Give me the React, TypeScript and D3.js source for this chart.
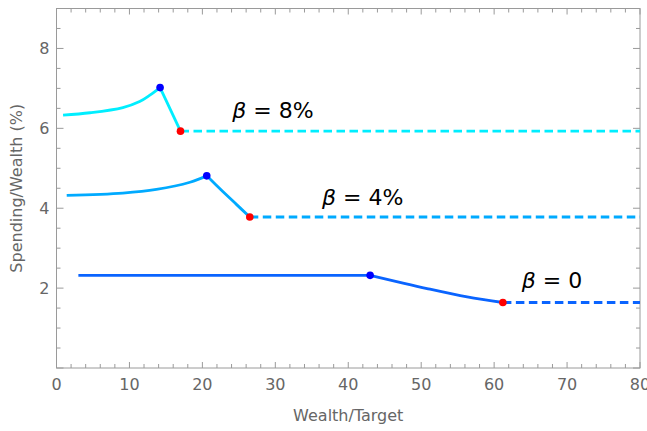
import React from "react";
import * as d3 from "d3";

// Spending rate (% of wealth) against wealth relative to target, for three β values
const beta8Rise: [number, number][] = [[0.9, 6.33], [4.6, 6.39], [9.1, 6.52], [11.4, 6.67], [12.8, 6.83], [14.2, 7.02]];
const beta8Fall: [number, number][] = [[14.2, 7.02], [17.0, 5.93]];
const beta4Rise: [number, number][] = [[1.4, 4.32], [9.1, 4.38], [13.7, 4.47], [18.3, 4.65], [20.6, 4.81]];
const beta4Fall: [number, number][] = [[20.6, 4.81], [22.8, 4.42], [24.7, 4.09], [26.5, 3.78]];
const beta0Flat: [number, number][] = [[3.0, 2.32], [43.0, 2.32]];
const beta0Fall: [number, number][] = [[43.0, 2.32], [50.8, 1.99], [56.3, 1.78], [61.2, 1.64]];

const series = [
  { name: "β = 8%", color: "#00eeff", parts: [beta8Rise, beta8Fall], label: [24.1, 6.25] },
  { name: "β = 4%", color: "#00aaff", parts: [beta4Rise, beta4Fall], label: [36.4, 4.08] },
  { name: "β = 0", color: "#0a64ff", parts: [beta0Flat, beta0Fall], label: [63.8, 2.0] },
];

const xTicks = [0, 10, 20, 30, 40, 50, 60, 70, 80];
const yTicks = [2, 4, 6, 8];

const W = 647, H = 431;
const M = { left: 56.5, right: 7, top: 8.5, bottom: 63 };

export default function App() {
  const x = d3.scaleLinear().domain([0, 80]).range([M.left, W - M.right]);
  const y = d3.scaleLinear().domain([0, 9]).range([H - M.bottom, M.top]);
  const line = d3.line<[number, number]>().x(d => x(d[0])).y(d => y(d[1])).curve(d3.curveCatmullRom.alpha(0.5));
  const x0 = M.left, x1 = W - M.right, y0 = H - M.bottom, y1 = M.top;
  const xMinor = d3.range(0, 80.001, 2);
  const yMinor = d3.range(0, 9.001, 0.5);
  const axisColor = "#9a9a9a";
  const labelColor = "#666";
  const font = "'DejaVu Sans', sans-serif";

  return (
    <svg width={W} height={H} style={{ position: "absolute", left: 0, top: 0 }} fontFamily={font}>
      <rect x={0} y={0} width={W} height={H} fill="#fff" />
      {/* ticks on all four sides */}
      <g stroke={axisColor} strokeWidth={1}>
        {xMinor.map(v => {
          const major = v % 10 === 0;
          const len = major ? 6 : 4;
          return (
            <g key={"x" + v}>
              <line x1={x(v)} x2={x(v)} y1={y0} y2={y0 - len} />
              <line x1={x(v)} x2={x(v)} y1={y1} y2={y1 + len} />
            </g>
          );
        })}
        {yMinor.map(v => {
          const major = v % 2 === 0;
          const len = major ? 7 : 4;
          return (
            <g key={"y" + v}>
              <line x1={x0} x2={x0 + len} y1={y(v)} y2={y(v)} />
              <line x1={x1} x2={x1 - len} y1={y(v)} y2={y(v)} />
            </g>
          );
        })}
        <rect x={x0} y={y1} width={x1 - x0} height={y0 - y1} fill="none" />
      </g>
      <g fill={labelColor} fontSize={16}>
        {xTicks.map(v => (
          <text key={v} x={x(v)} y={y0 + 22} textAnchor="middle">{v}</text>
        ))}
        {yTicks.map(v => (
          <text key={v} x={x0 - 7} y={y(v) + 6} textAnchor="end">{v}</text>
        ))}
        <text x={(x0 + x1) / 2} y={H - 10} textAnchor="middle">Wealth/Target</text>
        <text transform={`translate(22,${(y0 + y1) / 2}) rotate(-90)`} textAnchor="middle">Spending/Wealth (%)</text>
      </g>
      {series.map(s => {
        const last = s.parts[s.parts.length - 1];
        const end = last[last.length - 1];
        const peak = s.parts[0][s.parts[0].length - 1];
        return (
          <g key={s.name}>
            {s.parts.map((p, i) => (
              <path key={i} d={line(p) || ""} fill="none" stroke={s.color} strokeWidth={2.8} strokeLinejoin="round" />
            ))}
            <line x1={x(end[0])} x2={x(80)} y1={y(end[1])} y2={y(end[1])} stroke={s.color} strokeWidth={2.8} strokeDasharray="8.5,4.5" />
            <circle cx={x(peak[0])} cy={y(peak[1])} r={3.8} fill="#0000ff" />
            <circle cx={x(end[0])} cy={y(end[1])} r={3.8} fill="#ff0000" />
            <text x={x(s.label[0])} y={y(s.label[1])} fontSize={22} fill="#000">
              <tspan fontStyle="italic">β</tspan>
              {s.name.slice(1)}
            </text>
          </g>
        );
      })}
    </svg>
  );
}
